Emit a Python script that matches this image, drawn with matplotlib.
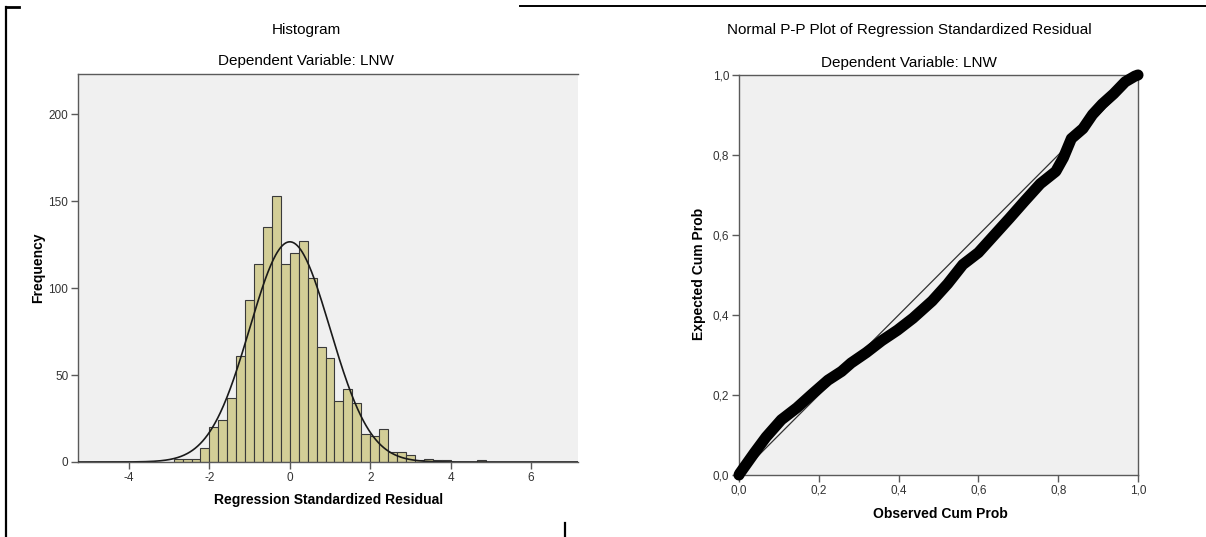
import matplotlib
matplotlib.use("Agg")
import matplotlib.pyplot as plt
import numpy as np
from matplotlib.lines import Line2D

plt.rcParams["font.family"] = ["Liberation Sans", "DejaVu Sans"]

# histogram of standardized residuals (bin width 2/9, first edge at -26/9)
BIN_START = -26 / 9
BIN_WIDTH = 2 / 9
COUNTS = [2, 2, 2, 8, 20, 24, 37, 61, 93, 114, 135, 153, 114, 120, 127, 106,
          66, 60, 35, 42, 34, 16, 15, 19, 6, 6, 4, 1, 2, 1, 1, 0, 0, 0, 1]
RES_MEAN = 0.0
RES_STD = 0.9996

HIST_XTICKS = [-4, -2, 0, 2, 4, 6]
HIST_YTICKS = [0, 50, 100, 150, 200]

# P-P plot
PP_OBSERVED = [0.0, 0.002, 0.039, 0.068, 0.106, 0.145, 0.184, 0.223, 0.257, 0.281,
               0.319, 0.358, 0.397, 0.436, 0.484, 0.523, 0.561, 0.600, 0.639,
               0.678, 0.716, 0.755, 0.794, 0.813, 0.833, 0.862, 0.886, 0.910,
               0.939, 0.968, 0.992, 1.0]
PP_EXPECTED = [0.0, 0.004, 0.056, 0.095, 0.138, 0.168, 0.203, 0.237, 0.259, 0.280,
               0.306, 0.336, 0.362, 0.392, 0.435, 0.478, 0.526, 0.556, 0.599,
               0.642, 0.685, 0.728, 0.759, 0.793, 0.841, 0.866, 0.901, 0.927,
               0.953, 0.983, 0.997, 1.0]
PP_TICKS = [0.0, 0.2, 0.4, 0.6, 0.8, 1.0]

W, H = 1206, 537
BG = "#f0f0f0"
SPINE = "#5a5a5a"
TICKCOL = "#333333"


def style_axes(ax):
    ax.set_facecolor(BG)
    for s in ax.spines.values():
        s.set_color(SPINE)
        s.set_linewidth(1.0)
    ax.tick_params(direction="out", length=5, width=1, color=SPINE,
                   labelsize=8.5, labelcolor=TICKCOL, pad=2)


fig = plt.figure(figsize=(W / 100, H / 100), dpi=100)

# ---- histogram ----
ax1 = fig.add_axes([78 / W, 1 - 462 / H, 500 / W, 388 / H])
style_axes(ax1)
ax1.spines["right"].set_visible(False)
edges = BIN_START + BIN_WIDTH * np.arange(len(COUNTS) + 1)
ax1.bar(edges[:-1], COUNTS, width=BIN_WIDTH, align="edge", color="#d3ce97",
        edgecolor="#3a3a3a", linewidth=0.8, zorder=2)
n_total = sum(COUNTS)
xs = np.linspace(-5.3, 7.2, 600)
pdf = np.exp(-0.5 * ((xs - RES_MEAN) / RES_STD) ** 2) / (RES_STD * np.sqrt(2 * np.pi))
ax1.plot(xs, n_total * BIN_WIDTH * pdf, color="#1a1a1a", lw=1.2, zorder=3)
ax1.set_xlim(-5.27, 7.17)
ax1.set_ylim(0, 223)
ax1.set_xticks(HIST_XTICKS)
ax1.set_xticklabels([str(t) for t in HIST_XTICKS])
ax1.set_yticks(HIST_YTICKS)
ax1.set_yticklabels([str(t) for t in HIST_YTICKS])
ax1.spines["bottom"].set_zorder(4)

fig.text(306 / W, 1 - 30 / H, "Histogram", ha="center", va="center", fontsize=11)
fig.text(306 / W, 1 - 61 / H, "Dependent Variable: LNW", ha="center", va="center",
         fontsize=11)
fig.text(329 / W, 1 - 500 / H, "Regression Standardized Residual", ha="center",
         va="center", fontsize=10, fontweight="bold")
fig.text(38 / W, 1 - 268 / H, "Frequency", ha="center", va="center", fontsize=10,
         fontweight="bold", rotation=90)

# ---- P-P plot ----
ax2 = fig.add_axes([739 / W, 1 - 475 / H, 399 / W, 400 / H])
style_axes(ax2)
ax2.plot([0, 1], [0, 1], color="#333333", lw=0.9, zorder=2)
ax2.plot(PP_OBSERVED, PP_EXPECTED, color="black", lw=8, solid_capstyle="round",
         solid_joinstyle="round", zorder=3, clip_on=False)
ax2.set_xlim(0, 1)
ax2.set_ylim(0, 1)
ax2.set_xticks(PP_TICKS)
ax2.set_xticklabels([f"{t:.1f}".replace(".", ",") for t in PP_TICKS])
ax2.set_yticks(PP_TICKS)
ax2.set_yticklabels([f"{t:.1f}".replace(".", ",") for t in PP_TICKS])

fig.text(909 / W, 1 - 30 / H, "Normal P-P Plot of Regression Standardized Residual",
         ha="center", va="center", fontsize=11)
fig.text(909 / W, 1 - 63 / H, "Dependent Variable: LNW", ha="center", va="center",
         fontsize=11)
fig.text(940 / W, 1 - 514 / H, "Observed Cum Prob", ha="center", va="center",
         fontsize=10, fontweight="bold")
fig.text(699 / W, 1 - 274 / H, "Expected Cum Prob", ha="center", va="center",
         fontsize=10, fontweight="bold", rotation=90)

# ---- page border bits ----
fig.add_artist(Line2D([6 / W, 6 / W], [0, 1 - 7 / H], color="black", lw=1.6,
                      transform=fig.transFigure))
fig.add_artist(Line2D([6 / W, 19 / W], [1 - 7 / H, 1 - 7 / H], color="black", lw=2,
                      transform=fig.transFigure))
fig.add_artist(Line2D([520 / W, 1], [1 - 6 / H, 1 - 6 / H], color="black", lw=1.4,
                      transform=fig.transFigure))
fig.add_artist(Line2D([565 / W, 565 / W], [0, 1 - 523 / H], color="black", lw=1.6,
                      transform=fig.transFigure))

fig.savefig("out.png", dpi=100)
